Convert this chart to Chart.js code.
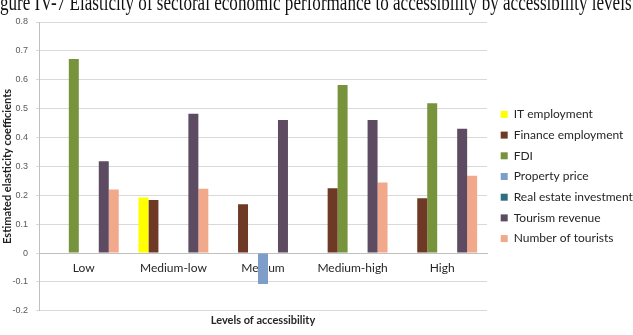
<!DOCTYPE html>
<html><head><meta charset="utf-8">
<script src="https://cdn.jsdelivr.net/npm/chart.js@4.4.1/dist/chart.umd.min.js"></script>
<style>
html,body{margin:0;padding:0;background:#fff;overflow:hidden;}
#wrap{position:relative;width:633px;height:335px;overflow:hidden;}
#title{position:absolute;top:-2.6px;left:-14px;white-space:nowrap;font-family:"Liberation Serif","Times New Roman",serif;font-size:16px;line-height:1;color:#111;z-index:2;}
canvas{position:absolute;left:0;top:0;}
</style></head>
<body>
<div id="wrap">
<div id="title">Figure IV-7 Elasticity of sectoral economic performance to accessibility by accessibility levels</div>
<canvas id="c" width="633" height="335"></canvas>
</div>
<script>
const categories = ["Low", "Medium-low", "Medium", "Medium-high", "High"];
const seriesNames = ["IT employment", "Finance employment", "FDI", "Property price", "Real estate investment", "Tourism revenue", "Number of tourists"];
const itEmployment      = [null, 0.192, null, null, null];
const financeEmployment = [null, 0.184, 0.169, 0.224, 0.19];
const fdi               = [0.672, null, null, 0.582, 0.519];
const propertyPrice     = [null, null, -0.107, null, null];
const realEstateInv     = [null, null, null, null, null];
const tourismRevenue    = [0.318, 0.482, 0.461, 0.461, 0.43];
const numberOfTourists  = [0.22, 0.223, null, 0.244, 0.268];
const yTicks = [-0.2, -0.1, 0, 0.1, 0.2, 0.3, 0.4, 0.5, 0.6, 0.7, 0.8];

const colors = ["#FFFF00", "#6E3A25", "#77933C", "#7F9DC9", "#2F6E7E", "#5C4B61", "#F2A98B"];
const values = [itEmployment, financeEmployment, fdi, propertyPrice, realEstateInv, tourismRevenue, numberOfTourists];

// fit title width and stretch vertically like the reference scan
(function(){
  const t = document.getElementById('title');
  const cv = document.createElement('canvas').getContext('2d');
  cv.font = '16px "Liberation Serif"';
  const visible = t.textContent.slice(2);
  const w = cv.measureText(visible).width;
  const size = 16 * 632 / w;
  t.style.fontSize = size + 'px';
  cv.font = size + 'px "Liberation Serif"';
  t.style.left = (-cv.measureText('Fi').width) + 'px';
  const base = 0.8375 * size;
  t.style.top = (10.5 - base) + 'px';
  t.style.transformOrigin = '0 ' + base + 'px';
  t.style.transform = 'scaleY(1.3)';
})();

const legendShift = {
  id: 'legendShift',
  afterLayout(chart) {
    chart.legend.left += 5; chart.legend.right += 5;
  }
};

new Chart(document.getElementById('c'), {
  type: 'bar',
  data: {
    labels: categories,
    datasets: seriesNames.map((n, i) => ({
      label: n, data: values[i], backgroundColor: colors[i], borderWidth: 0,
      categoryPercentage: 0.78, barPercentage: 1.0
    }))
  },
  options: {
    responsive: false,
    animation: false,
    layout: { padding: { top: 22, bottom: 4, left: 0, right: 0 } },
    plugins: {
      legend: {
        position: 'right', align: 'center', maxWidth: 146,
        labels: { boxWidth: 7, boxHeight: 7, padding: 8.7, color: '#262626',
          font: { family: 'Lato', size: 12 } }
      },
      title: {
        display: true, position: 'bottom', fullSize: false,
        text: 'Levels of accessibility', color: '#262626',
        font: { family: 'Lato', size: 11, weight: 'bold' },
        padding: { top: 3, bottom: 4 }
      },
      tooltip: { enabled: false }
    },
    scales: {
      x: {
        position: { y: 0 },
        grid: { display: false, drawTicks: false },
        border: { display: true, color: '#BFBFBF', width: 1 },
        ticks: { padding: 8, color: '#262626', font: { family: 'Lato', size: 12 } }
      },
      y: {
        min: -0.2, max: 0.8,
        afterBuildTicks: s => { s.ticks = yTicks.map(v => ({ value: v })); },
        afterFit: s => { s.width = 39; },
        grid: { color: '#D9D9D9', tickLength: 3, drawTicks: true },
        border: { display: true, color: '#BFBFBF' },
        ticks: { padding: 8, color: '#595959', font: { family: 'Liberation Sans', size: 9 },
          callback: v => String(Math.round(v * 10) / 10) },
        title: { display: true, text: 'Estimated elasticity coefficients', color: '#1f1f1f',
          font: { family: 'Lato', size: 11, weight: 'bold' }, padding: { top: 1, bottom: 0 } }
      }
    }
  },
  plugins: [legendShift]
});
</script>
</body></html>
